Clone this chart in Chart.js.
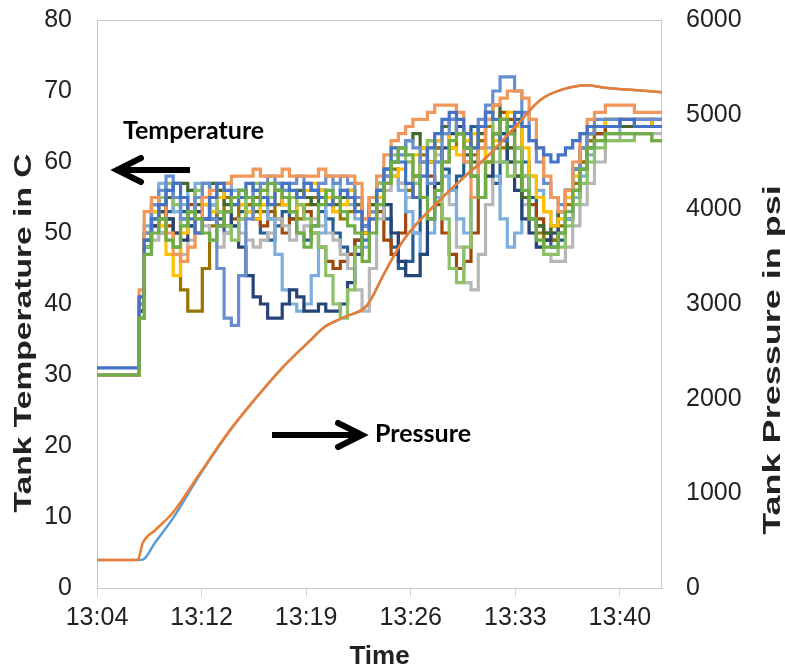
<!DOCTYPE html>
<html>
<head>
<meta charset="utf-8">
<script src="https://cdn.jsdelivr.net/npm/chart.js@4.4.1/dist/chart.umd.min.js"></script>
<style>
  html, body { margin: 0; padding: 0; background: #fff; }
  #wrap { width: 785px; height: 672px; }
</style>
</head>
<body>
<div id="wrap"><canvas id="tankChart" width="785" height="672"></canvas></div>
<script>
// x values are minutes after 13:04
const timeTicks = [0, 7.2, 14.4, 21.6, 28.8, 36];
const timeLabels = ['13:04', '13:12', '13:19', '13:26', '13:33', '13:40'];

const tempTime = [0, 2.8, 3, 3.5, 4, 4.5, 5, 5.5, 6, 6.5,
  7, 7.5, 8, 8.5, 9, 9.5, 10, 10.5, 11, 11.5,
  12, 12.5, 13, 13.5, 14, 14.5, 15, 15.5, 16, 16.5,
  17, 17.5, 18, 18.5, 19, 19.5, 20, 20.5, 21, 21.5,
  22, 22.5, 23, 23.5, 24, 24.5, 25, 25.5, 26, 26.5,
  27, 27.5, 28, 28.5, 29, 29.5, 30, 30.5, 31, 31.5,
  32, 32.5, 33, 33.5, 34, 34.5, 35.5, 36.5, 37.5, 38.9];

const tempGreen = [30, 30, 38, 47, 50, 52, 49, 48, 51, 53,
  52, 50, 49, 51, 53, 55, 56, 55, 54, 56,
  57, 56, 55, 53, 50, 48, 51, 54, 56, 55,
  53, 51, 50, 46, 50, 54, 57, 60, 62, 61,
  58, 55, 52, 56, 60, 63, 64, 62, 58, 55,
  60, 64, 66, 64, 60, 56, 52, 49, 48, 48,
  50, 53, 56, 59, 62, 63, 64, 64, 64, 63];
const tempBlue = [31, 31, 41, 49, 52, 54, 56, 57, 55, 52,
  50, 52, 55, 57, 56, 54, 55, 57, 56, 55,
  54, 56, 57, 56, 55, 57, 56, 55, 54, 55,
  56, 55, 53, 49, 52, 56, 59, 62, 60, 57,
  55, 58, 62, 64, 66, 67, 66, 64, 62, 65,
  67, 66, 63, 65, 67, 65, 63, 62, 61, 60,
  61, 62, 63, 64, 65, 65, 65, 66, 65, 65];
const tempLightOrange = [30, 30, 42, 53, 55, 54, 50, 47, 46, 48,
  52, 55, 56, 57, 57, 58, 58, 58, 59, 58,
  58, 58, 59, 58, 58, 58, 58, 59, 58, 58,
  58, 58, 57, 52, 55, 58, 61, 63, 64, 65,
  66, 66, 67, 68, 68, 68, 67, 60, 55, 62,
  66, 68, 69, 70, 70, 69, 66, 62, 58, 55,
  53, 56, 60, 64, 66, 67, 68, 68, 67, 67];
const tempMidBlue = [30, 30, 40, 50, 54, 56, 58, 55, 52, 53,
  55, 57, 52, 45, 38, 37, 44, 52, 56, 57,
  58, 57, 56, 57, 58, 57, 56, 57, 58, 57,
  58, 57, 55, 51, 53, 56, 58, 60, 61, 63,
  62, 60, 57, 60, 64, 66, 64, 60, 62, 66,
  68, 70, 72, 72, 70, 67, 63, 60, 57, 55,
  54, 56, 59, 62, 64, 66, 66, 66, 66, 66];
const tempLightGreen = [30, 30, 38, 48, 52, 55, 57, 54, 51, 53,
  56, 57, 55, 53, 51, 49, 52, 55, 57, 56,
  55, 57, 56, 55, 54, 52, 50, 48, 44, 40,
  38, 42, 48, 52, 55, 57, 59, 61, 62, 60,
  57, 60, 63, 60, 52, 45, 43, 48, 55, 62,
  66, 64, 60, 58, 62, 58, 52, 49, 47, 47,
  48, 51, 54, 57, 60, 62, 63, 63, 64, 63];
const tempGold = [30, 30, 40, 50, 53, 51, 47, 44, 50, 53,
  55, 54, 53, 55, 56, 55, 54, 53, 52, 54,
  55, 56, 54, 53, 55, 56, 57, 56, 55, 53,
  54, 56, 55, 50, 52, 55, 57, 58, 59, 60,
  61, 62, 60, 63, 64, 62, 61, 63, 64, 62,
  60, 63, 66, 67, 65, 62, 58, 55, 53, 51,
  52, 55, 58, 62, 64, 65, 66, 66, 66, 65];
const tempDarkGreen = [30, 30, 40, 50, 54, 52, 55, 57, 57, 56,
  54, 55, 57, 56, 54, 55, 56, 55, 53, 54,
  55, 56, 54, 55, 56, 55, 54, 56, 55, 54,
  55, 56, 54, 50, 54, 57, 59, 60, 62, 63,
  64, 62, 60, 63, 65, 66, 64, 61, 60, 64,
  67, 68, 66, 62, 58, 55, 52, 51, 50, 51,
  53, 56, 59, 62, 64, 65, 66, 65, 65, 66];
const tempNavy = [30, 30, 39, 48, 51, 53, 52, 50, 49, 51,
  53, 54, 52, 51, 53, 51, 48, 44, 41, 40,
  38, 38, 40, 42, 41, 39, 39, 40, 39, 39,
  40, 43, 47, 51, 55, 57, 54, 50, 46, 44,
  44, 47, 52, 57, 62, 64, 65, 62, 58, 55,
  58, 62, 64, 60, 56, 52, 50, 48, 49, 50,
  53, 56, 59, 62, 64, 65, 65, 65, 66, 65];
const tempLightBlue = [30, 30, 41, 51, 55, 57, 55, 53, 54, 56,
  57, 55, 54, 56, 57, 56, 55, 53, 54, 55,
  52, 47, 42, 40, 39, 40, 44, 50, 55, 57,
  56, 54, 52, 48, 52, 55, 57, 58, 56, 53,
  50, 47, 50, 55, 58, 56, 52, 50, 55, 60,
  62, 58, 52, 48, 50, 55, 58, 56, 53, 50,
  50, 52, 55, 58, 61, 63, 64, 65, 65, 65];
const tempGray = [30, 30, 39, 47, 49, 50, 49, 48, 47, 49,
  50, 51, 49, 48, 50, 51, 50, 49, 48, 49,
  50, 52, 51, 49, 50, 51, 52, 51, 50, 49,
  47, 45, 42, 39, 45, 52, 56, 58, 57, 55,
  57, 60, 62, 61, 58, 54, 48, 43, 42, 47,
  54, 60, 64, 62, 58, 54, 50, 48, 47, 46,
  46, 48, 51, 54, 57, 60, 63, 64, 64, 64];
const tempOlive = [30, 30, 40, 49, 53, 55, 52, 48, 42, 39,
  39, 45, 51, 53, 55, 54, 52, 54, 55, 53,
  52, 54, 55, 53, 52, 54, 55, 56, 55, 53,
  52, 53, 54, 50, 53, 56, 58, 59, 57, 56,
  58, 61, 63, 62, 60, 62, 64, 63, 61, 63,
  65, 64, 62, 60, 58, 55, 52, 50, 49, 49,
  51, 54, 57, 60, 63, 65, 65, 65, 65, 65];
const tempBrown = [30, 30, 39, 48, 51, 53, 51, 50, 52, 54,
  53, 52, 54, 53, 51, 52, 54, 53, 52, 51,
  53, 52, 50, 52, 54, 53, 50, 48, 46, 45,
  46, 47, 49, 51, 54, 53, 49, 47, 50, 55,
  58, 60, 58, 54, 50, 47, 45, 46, 50, 55,
  60, 64, 67, 66, 62, 58, 54, 52, 50, 49,
  50, 52, 56, 60, 63, 64, 65, 65, 65, 65];
const tempDarkBlue = [30, 30, 39, 49, 52, 50, 53, 55, 53, 51,
  50, 52, 54, 52, 50, 51, 53, 54, 52, 50,
  49, 51, 53, 52, 50, 49, 51, 53, 52, 50,
  48, 47, 49, 50, 53, 55, 52, 48, 45, 46,
  50, 55, 60, 62, 59, 56, 58, 62, 65, 63,
  60, 57, 60, 64, 66, 60, 55, 51, 49, 48,
  49, 52, 55, 59, 62, 64, 65, 65, 65, 65];

const pressTime = [0, 2.8, 3.15, 4, 5.2, 7.1, 9.15, 11, 12.8, 14.7,
  15.6, 17, 18.6, 19.8, 21.1, 23.6, 25.2, 26.9, 28.9, 30.5,
  31.9, 33.8, 34.7, 36.5, 38.9];
const pressOrange = [296, 296, 475, 610, 792, 1214, 1668, 2017, 2334, 2619,
  2750, 2860, 2988, 3330, 3675, 4097, 4330, 4562, 4889, 5153,
  5259, 5311, 5290, 5265, 5238];
const pressBlue = [296, 296, 300, 480, 730, 1200, 1660, 2017, 2334, 2619,
  2750, 2860, 2988, 3330, 3675, 4097, 4330, 4562, 4889, 5153,
  5259, 5311, 5290, 5265, 5238];

const tempSeries = [
  ['T green', tempGreen, '#70AD47'],
  ['T blue', tempBlue, '#4472C4'],
  ['T light orange', tempLightOrange, '#F1975A'],
  ['T mid blue', tempMidBlue, '#698ED0'],
  ['T light green', tempLightGreen, '#8CC168'],
  ['T gold', tempGold, '#FFC000'],
  ['T dark green', tempDarkGreen, '#43682B'],
  ['T navy', tempNavy, '#264478'],
  ['T light blue', tempLightBlue, '#7CAFDD'],
  ['T gray', tempGray, '#B7B7B7'],
  ['T olive', tempOlive, '#997300'],
  ['T brown', tempBrown, '#9E480E'],
  ['T dark blue', tempDarkBlue, '#255E91']
];

const FONT = "'Liberation Sans', Arial, sans-serif";
const INK = '#222222';

function points(xs, ys) {
  return xs.map((x, i) => ({x: x, y: ys[i]}));
}

const datasets = [
  {
    label: 'Pressure 1', data: points(pressTime, pressOrange), yAxisID: 'y2',
    borderColor: '#ED7D31', borderWidth: 2.5, cubicInterpolationMode: 'monotone'
  },
  {
    label: 'Pressure 2', data: points(pressTime, pressBlue), yAxisID: 'y2',
    borderColor: '#5B9BD5', borderWidth: 2.5, cubicInterpolationMode: 'monotone'
  }
];
tempSeries.forEach(s => {
  datasets.push({
    label: s[0], data: points(tempTime, s[1]), yAxisID: 'y',
    borderColor: s[2], borderWidth: 3.2, stepped: 'middle'
  });
});

// light grey frame round the plot area
const plotFrame = {
  id: 'plotFrame',
  beforeDatasetsDraw(chart) {
    const a = chart.chartArea;
    const ctx = chart.ctx;
    ctx.save();
    ctx.strokeStyle = '#c8c8c8';
    ctx.lineWidth = 1;
    ctx.strokeRect(a.left + 0.5, a.top + 0.5, a.right - a.left - 1, a.bottom - a.top);
    ctx.restore();
  }
};

function stretchedTitle(ctx, text, cx, cy, sx) {
  ctx.save();
  ctx.translate(cx, cy);
  ctx.rotate(-Math.PI / 2);
  ctx.scale(sx, 1);
  ctx.textAlign = 'center';
  ctx.textBaseline = 'middle';
  ctx.fillText(text, 0, 0);
  ctx.restore();
}

function arrow(ctx, x0, y, x1) {
  const dir = x1 > x0 ? 1 : -1;
  ctx.beginPath();
  ctx.lineCap = 'butt';
  ctx.moveTo(x0, y);
  ctx.lineTo(x1 - dir * 3, y);
  ctx.stroke();
  ctx.beginPath();
  ctx.lineCap = 'round';
  ctx.lineJoin = 'miter';
  ctx.moveTo(x1 - dir * 24, y - 12);
  ctx.lineTo(x1, y);
  ctx.lineTo(x1 - dir * 24, y + 12);
  ctx.stroke();
}

const notes = {
  id: 'notes',
  afterDraw(chart) {
    const ctx = chart.ctx;
    const a = chart.chartArea;
    ctx.save();
    ctx.fillStyle = INK;
    ctx.font = "bold 24px " + FONT;
    stretchedTitle(ctx, 'Tank Temperature in C', 24, 333, 1.4);
    stretchedTitle(ctx, 'Tank Pressure in psi', 773, 360, 1.5);

    ctx.fillStyle = '#000';
    ctx.font = "bold 25px Lato, 'Open Sans', sans-serif";
    ctx.textAlign = 'left';
    ctx.textBaseline = 'middle';
    ctx.fillText('Temperature', a.left + 26, a.top + 111);
    ctx.fillText('Pressure', a.left + 278, a.top + 414);

    ctx.strokeStyle = '#000';
    ctx.lineWidth = 6;
    arrow(ctx, a.left + 93, a.top + 150, a.left + 20);
    arrow(ctx, a.left + 175, a.top + 415, a.left + 265);
    ctx.restore();
  }
};

// keep the vertical axes from reserving extra room above the plot
function fixVertical(width) {
  return function (scale) {
    scale.width = width;
    scale.paddingTop = 20;
    scale.paddingBottom = 0;
  };
}

new Chart(document.getElementById('tankChart'), {
  type: 'line',
  data: {datasets: datasets},
  plugins: [plotFrame, notes],
  options: {
    responsive: false,
    animation: false,
    layout: {padding: {top: 0, left: 0, right: 0, bottom: 0}},
    elements: {point: {radius: 0}, line: {tension: 0}},
    plugins: {legend: {display: false}, tooltip: {enabled: false}},
    scales: {
      x: {
        type: 'linear',
        min: 0,
        max: 38.9,
        afterBuildTicks(scale) {
          scale.ticks = timeTicks.map(v => ({value: v}));
        },
        afterFit(scale) { scale.height = 84; },
        ticks: {
          callback: (v, i) => timeLabels[i],
          font: {family: FONT, size: 25},
          color: INK,
          padding: 6,
          maxRotation: 0,
          autoSkip: false
        },
        grid: {drawOnChartArea: false, drawTicks: true, tickLength: 9, color: '#d6d6d6'},
        border: {display: true, color: '#d6d6d6'},
        title: {
          display: true, text: 'Time', color: INK,
          font: {family: FONT, size: 26, weight: 'bold'},
          padding: {top: 0, bottom: 0}
        }
      },
      y: {
        position: 'left',
        min: 0,
        max: 80,
        afterFit: fixVertical(97),
        ticks: {stepSize: 10, font: {family: FONT, size: 25}, color: INK, padding: 25},
        grid: {display: false, drawTicks: false},
        border: {display: false}
      },
      y2: {
        position: 'right',
        min: 0,
        max: 6000,
        afterFit: fixVertical(123),
        ticks: {
          stepSize: 1000, font: {family: FONT, size: 25}, color: INK, padding: 24,
          callback: v => String(v)
        },
        grid: {display: false, drawTicks: false},
        border: {display: false}
      }
    }
  }
});
</script>
</body>
</html>
